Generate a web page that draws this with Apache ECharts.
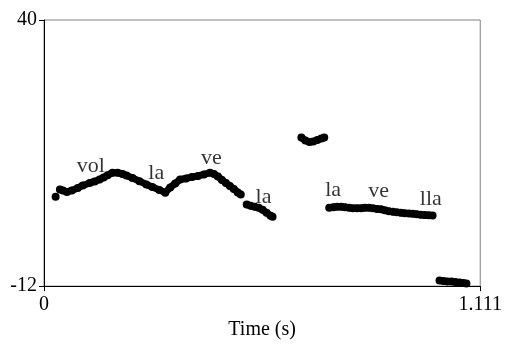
<!DOCTYPE html>
<html>
<head>
<meta charset="utf-8">
<script src="https://cdn.jsdelivr.net/npm/echarts@6/dist/echarts.min.js"></script>
<style>
  html, body { margin: 0; padding: 0; background: #fff; }
  #chart { width: 505px; height: 345px; }
</style>
</head>
<body>
<div id="chart"></div>
<script>
// pitch contour segments, [time (s), value]
var seg0 = [[0.0296, 5.47]];
var seg1 = [
  [0.0405, 6.89], [0.0481, 6.70], [0.0582, 6.41], [0.0709, 6.70], [0.0861, 7.19],
  [0.0987, 7.67], [0.1164, 8.16], [0.1291, 8.45], [0.1417, 8.84], [0.1519, 9.23],
  [0.1620, 9.68], [0.1746, 10.15], [0.1873, 10.15], [0.2000, 9.91], [0.2101, 9.62],
  [0.2253, 9.13], [0.2430, 8.51], [0.2607, 7.87], [0.2759, 7.38], [0.2936, 6.80],
  [0.3088, 6.25], [0.3214, 7.28], [0.3341, 8.06], [0.3467, 8.84], [0.3619, 9.04],
  [0.3771, 9.33], [0.3923, 9.52], [0.4075, 9.82], [0.4227, 10.15], [0.4328, 9.91],
  [0.4429, 9.43], [0.4531, 8.74], [0.4632, 8.16], [0.4733, 7.58], [0.4834, 6.99],
  [0.4935, 6.31], [0.5011, 5.92]
];
var seg2 = [
  [0.5163, 3.97], [0.5264, 3.68], [0.5366, 3.49], [0.5467, 3.29], [0.5568, 2.90],
  [0.5669, 2.32], [0.5771, 1.73], [0.5821, 1.54]
];
var seg3 = [
  [0.6555, 17.02], [0.6656, 16.44], [0.6758, 16.14], [0.6859, 16.24], [0.6960, 16.53],
  [0.7062, 16.83], [0.7137, 17.02]
];
var seg4 = [
  [0.7264, 3.29], [0.7365, 3.43], [0.7466, 3.49], [0.7568, 3.49], [0.7669, 3.39],
  [0.7770, 3.29], [0.7871, 3.19], [0.7973, 3.19], [0.8074, 3.23], [0.8175, 3.29],
  [0.8276, 3.29], [0.8378, 3.19], [0.8479, 3.09], [0.8580, 3.00], [0.8681, 2.80],
  [0.8783, 2.61], [0.8884, 2.51], [0.8985, 2.41], [0.9086, 2.32], [0.9188, 2.22],
  [0.9289, 2.18], [0.9390, 2.12], [0.9491, 2.03], [0.9593, 1.93], [0.9694, 1.87],
  [0.9795, 1.83], [0.9896, 1.79]
];
var seg5 = [
  [1.0073, -10.93], [1.0175, -11.02], [1.0276, -11.08], [1.0377, -11.12], [1.0478, -11.22],
  [1.0580, -11.31], [1.0681, -11.41], [1.0757, -11.51]
];

// syllable labels
var syllables = ["vol", "la", "ve", "la", "la", "ve", "lla"];
var syllableTimes = [0.119, 0.286, 0.426, 0.559, 0.7365, 0.852, 0.985];
var syllableValues = [11.5, 10.1, 13.0, 5.4, 6.8, 6.6, 5.0];

var xTicks = [0, 1.111];
var yTicks = [-12, 40];

var FONT = "'Liberation Serif', 'Times New Roman', serif";

var chart = echarts.init(document.getElementById("chart"));

var segSeries = [seg0, seg1, seg2, seg3, seg4, seg5].map(function (seg) {
  return {
    type: "line",
    data: seg,
    symbol: "circle",
    symbolSize: 8,
    showSymbol: true,
    showAllSymbol: true,
    itemStyle: { color: "#000" },
    lineStyle: { color: "#000", width: 7 },
    z: 3
  };
});

var labelSeries = {
  type: "scatter",
  symbolSize: 0,
  data: syllables.map(function (s, i) {
    return { name: s, value: [syllableTimes[i], syllableValues[i]] };
  }),
  label: {
    show: true,
    position: "inside",
    formatter: "{b}",
    color: "#000",
    fontFamily: FONT,
    fontSize: 22
  },
  z: 4
};

var option = {
  animation: false,
  backgroundColor: "#fff",
  grid: {
    left: 44,
    right: 22,
    top: 20,
    bottom: 58,
    show: true,
    borderColor: "#808080",
    borderWidth: 1
  },
  xAxis: {
    type: "value",
    min: 0,
    max: 1.111,
    name: "Time (s)",
    nameLocation: "middle",
    nameGap: 33,
    nameTextStyle: { color: "#000", fontFamily: FONT, fontSize: 20 },
    splitLine: { show: false },
    axisLine: { onZero: false, lineStyle: { color: "#000", width: 1 } },
    axisTick: { customValues: xTicks, length: 5, lineStyle: { color: "#000" } },
    axisLabel: {
      customValues: xTicks,
      color: "#000",
      fontFamily: FONT,
      fontSize: 20,
      margin: 9,
      formatter: function (v) { return String(v); }
    }
  },
  yAxis: {
    type: "value",
    min: -12,
    max: 40,
    splitLine: { show: false },
    axisLine: { show: true, onZero: false, lineStyle: { color: "#000", width: 1 } },
    axisTick: { show: true, customValues: yTicks, length: 5, lineStyle: { color: "#000" } },
    axisLabel: {
      customValues: yTicks,
      color: "#000",
      fontFamily: FONT,
      fontSize: 20,
      margin: 7,
      formatter: function (v) { return String(v); }
    }
  },
  series: segSeries.concat([labelSeries])
};

chart.setOption(option);
</script>
</body>
</html>
